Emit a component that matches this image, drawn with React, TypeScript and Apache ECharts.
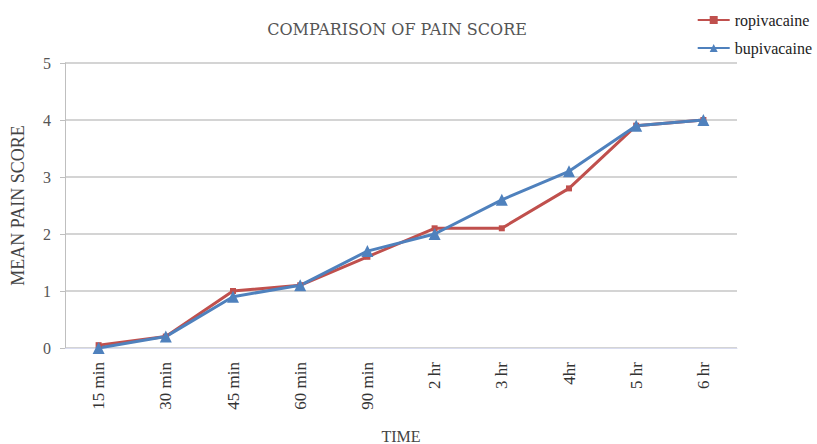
import React, { useEffect, useRef } from "react";
import * as echarts from "echarts";

const categories = ["15 min", "30 min", "45 min", "60 min", "90 min", "2 hr", "3 hr", "4hr", "5 hr", "6 hr"];
const ropivacaine = [0.05, 0.2, 1.0, 1.1, 1.6, 2.1, 2.1, 2.8, 3.9, 4.0];
const bupivacaine = [0.0, 0.2, 0.9, 1.1, 1.7, 2.0, 2.6, 3.1, 3.9, 4.0];
const yTicks = { min: 0, max: 5, interval: 1 };

const FONT = "Liberation Serif";

export default function App() {
  const ref = useRef<HTMLDivElement>(null);
  useEffect(() => {
    if (!ref.current) return;
    const chart = echarts.init(ref.current, null, { renderer: "svg" });
    chart.setOption({
      animation: false,
      backgroundColor: "#ffffff",
      title: {
        text: "COMPARISON OF PAIN SCORE",
        left: 392,
        top: 16,
        textAlign: "center",
        textStyle: { fontFamily: "DejaVu Serif", fontSize: 16, fontWeight: "normal", color: "#555555" },
      },
      legend: {
        orient: "vertical",
        right: 0,
        top: 7,
        itemGap: 12,
        itemWidth: 32,
        itemHeight: 10,
        textStyle: { fontFamily: FONT, fontSize: 16, color: "#222222" },
        data: ["ropivacaine", "bupivacaine"],
      },
      grid: { left: 65, right: 80, top: 63, bottom: 96, outerBoundsMode: "none", containLabel: false },
      xAxis: {
        type: "category",
        data: categories,
        boundaryGap: true,
        name: "TIME",
        nameLocation: "middle",
        nameGap: 80,
        nameTextStyle: { fontFamily: FONT, fontSize: 16, color: "#444444" },
        axisLine: { show: true, lineStyle: { color: "#d9dcef", width: 1 } },
        axisTick: { show: false },
        axisLabel: { rotate: 90, margin: 14, fontFamily: FONT, fontSize: 17, color: "#333333" },
      },
      yAxis: {
        type: "value",
        min: yTicks.min,
        max: yTicks.max,
        interval: yTicks.interval,
        name: "MEAN PAIN SCORE",
        nameLocation: "middle",
        nameGap: 38,
        nameTextStyle: { fontFamily: FONT, fontSize: 18, color: "#444444" },
        axisLine: { show: true, lineStyle: { color: "#bfbfbf" } },
        axisTick: { show: true, inside: false, length: 5, lineStyle: { color: "#bfbfbf" } },
        axisLabel: { margin: 14, fontFamily: FONT, fontSize: 16, color: "#555555" },
        splitLine: { show: true, lineStyle: { color: "#c6c6c6", width: 1.5 } },
      },
      series: [
        {
          name: "ropivacaine",
          type: "line",
          data: ropivacaine,
          color: "#C0504D",
          symbol: "rect",
          symbolSize: 6,
          lineStyle: { width: 3, color: "#C0504D" },
          itemStyle: { color: "#C0504D" },
        },
        {
          name: "bupivacaine",
          type: "line",
          data: bupivacaine,
          color: "#4F81BD",
          symbol: "triangle",
          symbolSize: 12,
          lineStyle: { width: 3, color: "#4F81BD" },
          itemStyle: { color: "#4F81BD" },
        },
      ],
    });
    return () => chart.dispose();
  }, []);
  return <div ref={ref} style={{ position: "fixed", left: 0, top: 0, width: 817, height: 444 }} />;
}
